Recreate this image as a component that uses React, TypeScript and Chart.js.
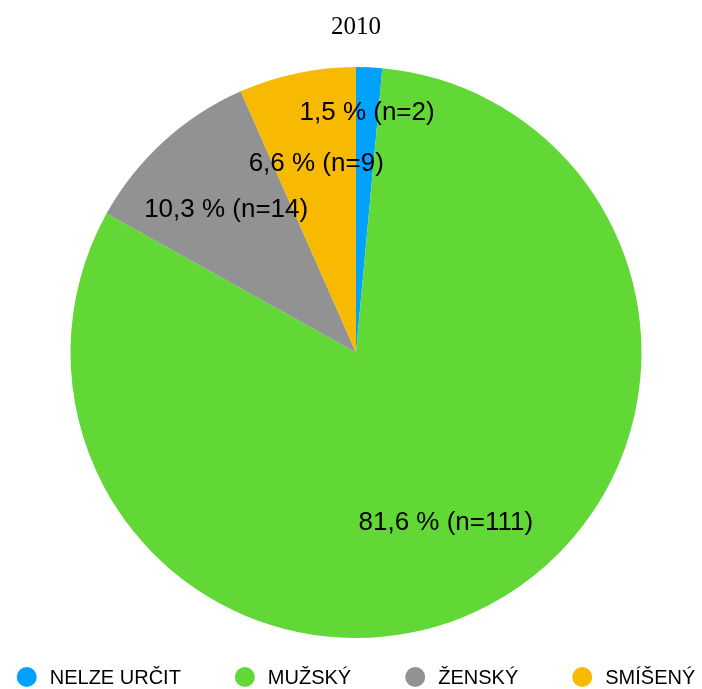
import React, { useEffect, useRef } from "react";
import { Chart, registerables } from "chart.js";

Chart.register(...registerables);

const chartTitle = "2010";
const categories = ["NELZE URČIT", "MUŽSKÝ", "ŽENSKÝ", "SMÍŠENÝ"];
const counts = [2, 111, 14, 9];
const sliceColors = ["#00A2FF", "#61D836", "#929292", "#F8BA00"];

const LABEL_FONT = '26px "Liberation Sans", Helvetica, Arial, sans-serif';
const LEGEND_FONT = '20px "Liberation Sans", Helvetica, Arial, sans-serif';

const sliceLabels = {
  id: "sliceLabels",
  afterDatasetsDraw(chart: any) {
    const meta = chart.getDatasetMeta(0);
    const data: number[] = chart.data.datasets[0].data;
    const total = data.reduce((a, b) => a + b, 0);
    const ctx = chart.ctx;
    ctx.save();
    ctx.font = LABEL_FONT;
    ctx.fillStyle = "#000";
    ctx.textAlign = "center";
    ctx.textBaseline = "middle";
    meta.data.forEach((arc: any, i: number) => {
      const { x, y, startAngle, endAngle, outerRadius } = arc.getProps(
        ["x", "y", "startAngle", "endAngle", "outerRadius"],
        true
      );
      const frac = data[i] / total;
      const mid = (startAngle + endAngle) / 2;
      const rf = frac < 0.03 ? 0.84 : 0.675;
      const r = outerRadius * rf;
      const pct = (frac * 100).toFixed(1).replace(".", ",");
      ctx.fillText(`${pct} % (n=${data[i]})`, x + Math.cos(mid) * r, y + Math.sin(mid) * r);
    });
    ctx.restore();
  },
};

const dotLegend = {
  id: "dotLegend",
  afterDraw(chart: any) {
    const ctx = chart.ctx;
    const labels: string[] = chart.data.labels;
    const bg: string[] = chart.data.datasets[0].backgroundColor;
    const area = chart.chartArea;
    ctx.save();
    ctx.font = LEGEND_FONT;
    const R = 10;
    const textGap = 23;
    const itemGap = 54;
    const widths = labels.map((l) => ctx.measureText(l).width);
    const total =
      widths.reduce((s, w) => s + R + textGap + w, 0) + itemGap * (labels.length - 1);
    const cx = (area.left + area.right) / 2;
    const y = 677;
    let x = cx - total / 2;
    ctx.textAlign = "left";
    ctx.textBaseline = "middle";
    labels.forEach((l, i) => {
      const center = x + R;
      ctx.beginPath();
      ctx.arc(center, y, R, 0, Math.PI * 2);
      ctx.fillStyle = bg[i];
      ctx.fill();
      ctx.fillStyle = "#000";
      ctx.fillText(l, center + textGap, y + 1);
      x = center + textGap + widths[i] + itemGap;
    });
    ctx.restore();
  },
};

export default function App() {
  const canvasRef = useRef<HTMLCanvasElement | null>(null);

  useEffect(() => {
    if (!canvasRef.current) return;
    const chart = new Chart(canvasRef.current, {
      type: "pie",
      data: {
        labels: categories,
        datasets: [
          {
            data: counts,
            backgroundColor: sliceColors,
            borderWidth: 0,
          },
        ],
      },
      options: {
        responsive: true,
        maintainAspectRatio: false,
        animation: false,
        layout: { padding: { left: 10, right: 0, top: 0, bottom: 51 } },
        plugins: {
          legend: { display: false },
          tooltip: { enabled: false },
          title: {
            display: true,
            text: chartTitle,
            color: "#000",
            font: {
              family: '"Liberation Serif", "Times New Roman", serif',
              size: 25,
              weight: "normal",
            },
            padding: { top: 12, bottom: 25 },
          },
        },
      },
      plugins: [sliceLabels, dotLegend],
    });
    return () => chart.destroy();
  }, []);

  return (
    <div
      style={{
        position: "fixed",
        left: 0,
        top: 0,
        width: 702,
        height: 689,
        background: "#fff",
      }}
    >
      <canvas ref={canvasRef} />
    </div>
  );
}
